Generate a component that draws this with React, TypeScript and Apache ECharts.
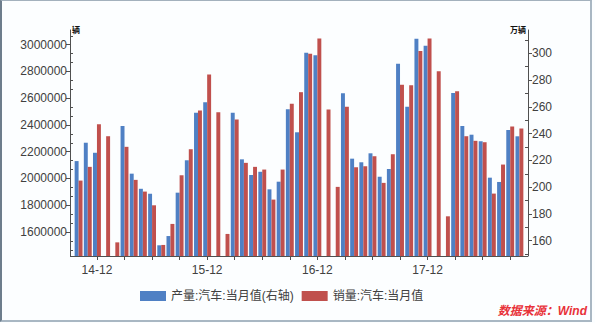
import React, { useEffect, useRef } from "react";
import * as echarts from "echarts";

const categories = [
  "14-10", "14-11", "14-12",
  "15-01", "15-02", "15-03", "15-04", "15-05", "15-06", "15-07", "15-08", "15-09", "15-10", "15-11", "15-12",
  "16-01", "16-02", "16-03", "16-04", "16-05", "16-06", "16-07", "16-08", "16-09", "16-10", "16-11", "16-12",
  "17-01", "17-02", "17-03", "17-04", "17-05", "17-06", "17-07", "17-08", "17-09", "17-10", "17-11", "17-12",
  "18-01", "18-02", "18-03", "18-04", "18-05", "18-06", "18-07", "18-08", "18-09", "18-10",
];

// 产量 (万辆, right axis)
const productionWan = [
  219.5, 233.2, 225.7,
  null, null, 245.7, 210.1, 198.8, 195.1, 156.6, 163.5, 195.9, 220.1, 255.6, 263.4,
  null, null, 255.6, 220.8, 209.1, 211.5, 198.4, 204.1, 258.2, 241.0, 300.4, 298.5,
  null, null, 270.1, 221.3, 218.6, 225.3, 207.8, 213.6, 292.2, 260.1, 310.9, 305.7,
  null, null, 270.4, 245.7, 239.2, 234.3, 207.1, 203.9, 242.7, 238.0,
];

// 销量 (辆, left axis)
const salesUnits = [
  1984000, 2086600, 2405600,
  2315700, 1522000, 2236400, 1989300, 1901700, 1799100, 1502700, 1659900, 2023700, 2218400, 2508100, 2777600,
  2495400, 1585000, 2440700, 2116600, 2086600, 2066400, 1841800, 2066400, 2558300, 2645100, 2932600, 3047200,
  2515600, 1936900, 2535800, 2083600, 2091100, 2166000, 1966800, 2181000, 2700500, 2697500, 2952100, 3047200,
  2802300, 1716800, 2652600, 2315700, 2281300, 2270800, 1886700, 2103800, 2388300, 2373400,
];

const seriesNames = ["产量:汽车:当月值(右轴)", "销量:汽车:当月值"];
const leftRange = [1420000, 3110000];
const rightRange = [148.6, 317.4];
const sourceText = "数据来源：Wind";

export default function App() {
  const ref = useRef<HTMLDivElement>(null);
  useEffect(() => {
    if (!ref.current) return;
    const chart = echarts.init(ref.current, null, { renderer: "svg" });
    const font = '"Liberation Sans", "Noto Sans CJK SC", sans-serif';
    const axisColor = "#505050";
    const labelColor = "#404040";
    const plain = (v: number) => String(v);
    const baseY = (side: "left" | "right", range: number[]) => ({
      type: "value",
      position: side,
      min: range[0],
      max: range[1],
      splitNumber: 8,
      offset: 4,
      splitLine: { show: false },
    });
    chart.setOption({
      animation: false,
      textStyle: { fontFamily: font },
      grid: { left: 74, right: 71, top: 30, bottom: 67, outerBoundsMode: "none" },
      legend: {
        left: 135,
        top: 285,
        itemWidth: 26,
        itemHeight: 10,
        itemGap: 8,
        icon: "rect",
        data: seriesNames,
        textStyle: { fontSize: 12, color: labelColor, fontFamily: font },
      },
      xAxis: {
        type: "category",
        data: categories,
        boundaryGap: true,
        axisLine: { show: false },
        axisTick: {
          show: true,
          alignWithLabel: true,
          length: 4,
          interval: (i: number) => (i - 2) % 3 === 0,
          lineStyle: { color: axisColor },
        },
        axisLabel: {
          interval: (i: number) => (i - 2) % 12 === 0,
          fontSize: 12,
          color: labelColor,
          margin: 8,
        },
      },
      yAxis: [
        {
          ...baseY("left", leftRange),
          axisLine: { show: true, lineStyle: { color: axisColor } },
          axisTick: { show: true, length: 4, lineStyle: { color: axisColor } },
          axisLabel: { fontSize: 12, color: labelColor, margin: 3, showMinLabel: false, showMaxLabel: false, formatter: plain },
          name: "辆",
          nameLocation: "end",
          nameGap: 0,
          nameTextStyle: { fontSize: 8, fontWeight: "bold", color: "#111", align: "left", verticalAlign: "middle", padding: [0, 0, 0, 2] },
        },
        {
          ...baseY("right", rightRange),
          axisLine: { show: true, lineStyle: { color: axisColor } },
          axisTick: { show: true, length: 4, lineStyle: { color: axisColor } },
          axisLabel: { fontSize: 12, color: labelColor, margin: 4, showMinLabel: false, showMaxLabel: false, formatter: plain },
          name: "万辆",
          nameLocation: "end",
          nameGap: 0,
          nameTextStyle: { fontSize: 8, fontWeight: "bold", color: "#111", align: "right", verticalAlign: "middle", padding: [0, 2, 0, 0] },
        },
        {
          ...baseY("left", leftRange),
          axisLine: { show: false },
          axisTick: { show: false, inside: true },
          axisLabel: { show: false },
          minorTick: { show: true, splitNumber: 3, length: 3, lineStyle: { color: axisColor } },
        },
        {
          ...baseY("right", rightRange),
          axisLine: { show: false },
          axisTick: { show: false, inside: true },
          axisLabel: { show: false },
          minorTick: { show: true, splitNumber: 2, length: 3, lineStyle: { color: axisColor } },
        },
      ],
      series: [
        {
          name: seriesNames[0],
          type: "bar",
          yAxisIndex: 1,
          data: productionWan,
          barGap: "0%",
          barCategoryGap: "14%",
          itemStyle: { color: "#4f80c4" },
        },
        {
          name: seriesNames[1],
          type: "bar",
          yAxisIndex: 0,
          data: salesUnits,
          barGap: "0%",
          barCategoryGap: "14%",
          itemStyle: { color: "#c0504d" },
        },
      ],
      graphic: [
        {
          type: "line",
          shape: { x1: 70, y1: 256.5, x2: 528, y2: 256.5 },
          style: { stroke: axisColor, lineWidth: 1 },
        },
        {
          type: "text",
          right: 8,
          top: 305,
          style: {
            text: sourceText,
            fill: "#e8323a",
            font: 'italic bold 12px "Liberation Sans", "Noto Sans CJK SC", sans-serif',
          },
        },
      ],
    });
    return () => chart.dispose();
  }, []);

  return (
    <div style={{ position: "fixed", left: 0, top: 0, width: 595, height: 323, background: "#fcfeff" }}>
      <div ref={ref} style={{ position: "absolute", left: 0, top: 0, width: 595, height: 323 }} />
      <div
        style={{
          position: "absolute",
          left: 0,
          top: 0,
          width: 592,
          height: 322,
          boxSizing: "border-box",
          borderLeft: "2px solid #6d7d8c",
          borderTop: "1px solid #a3b1bd",
          borderRight: "2px solid #a9b7c3",
          borderBottom: "2px solid #a9b7c3",
          pointerEvents: "none",
        }}
      />
    </div>
  );
}
